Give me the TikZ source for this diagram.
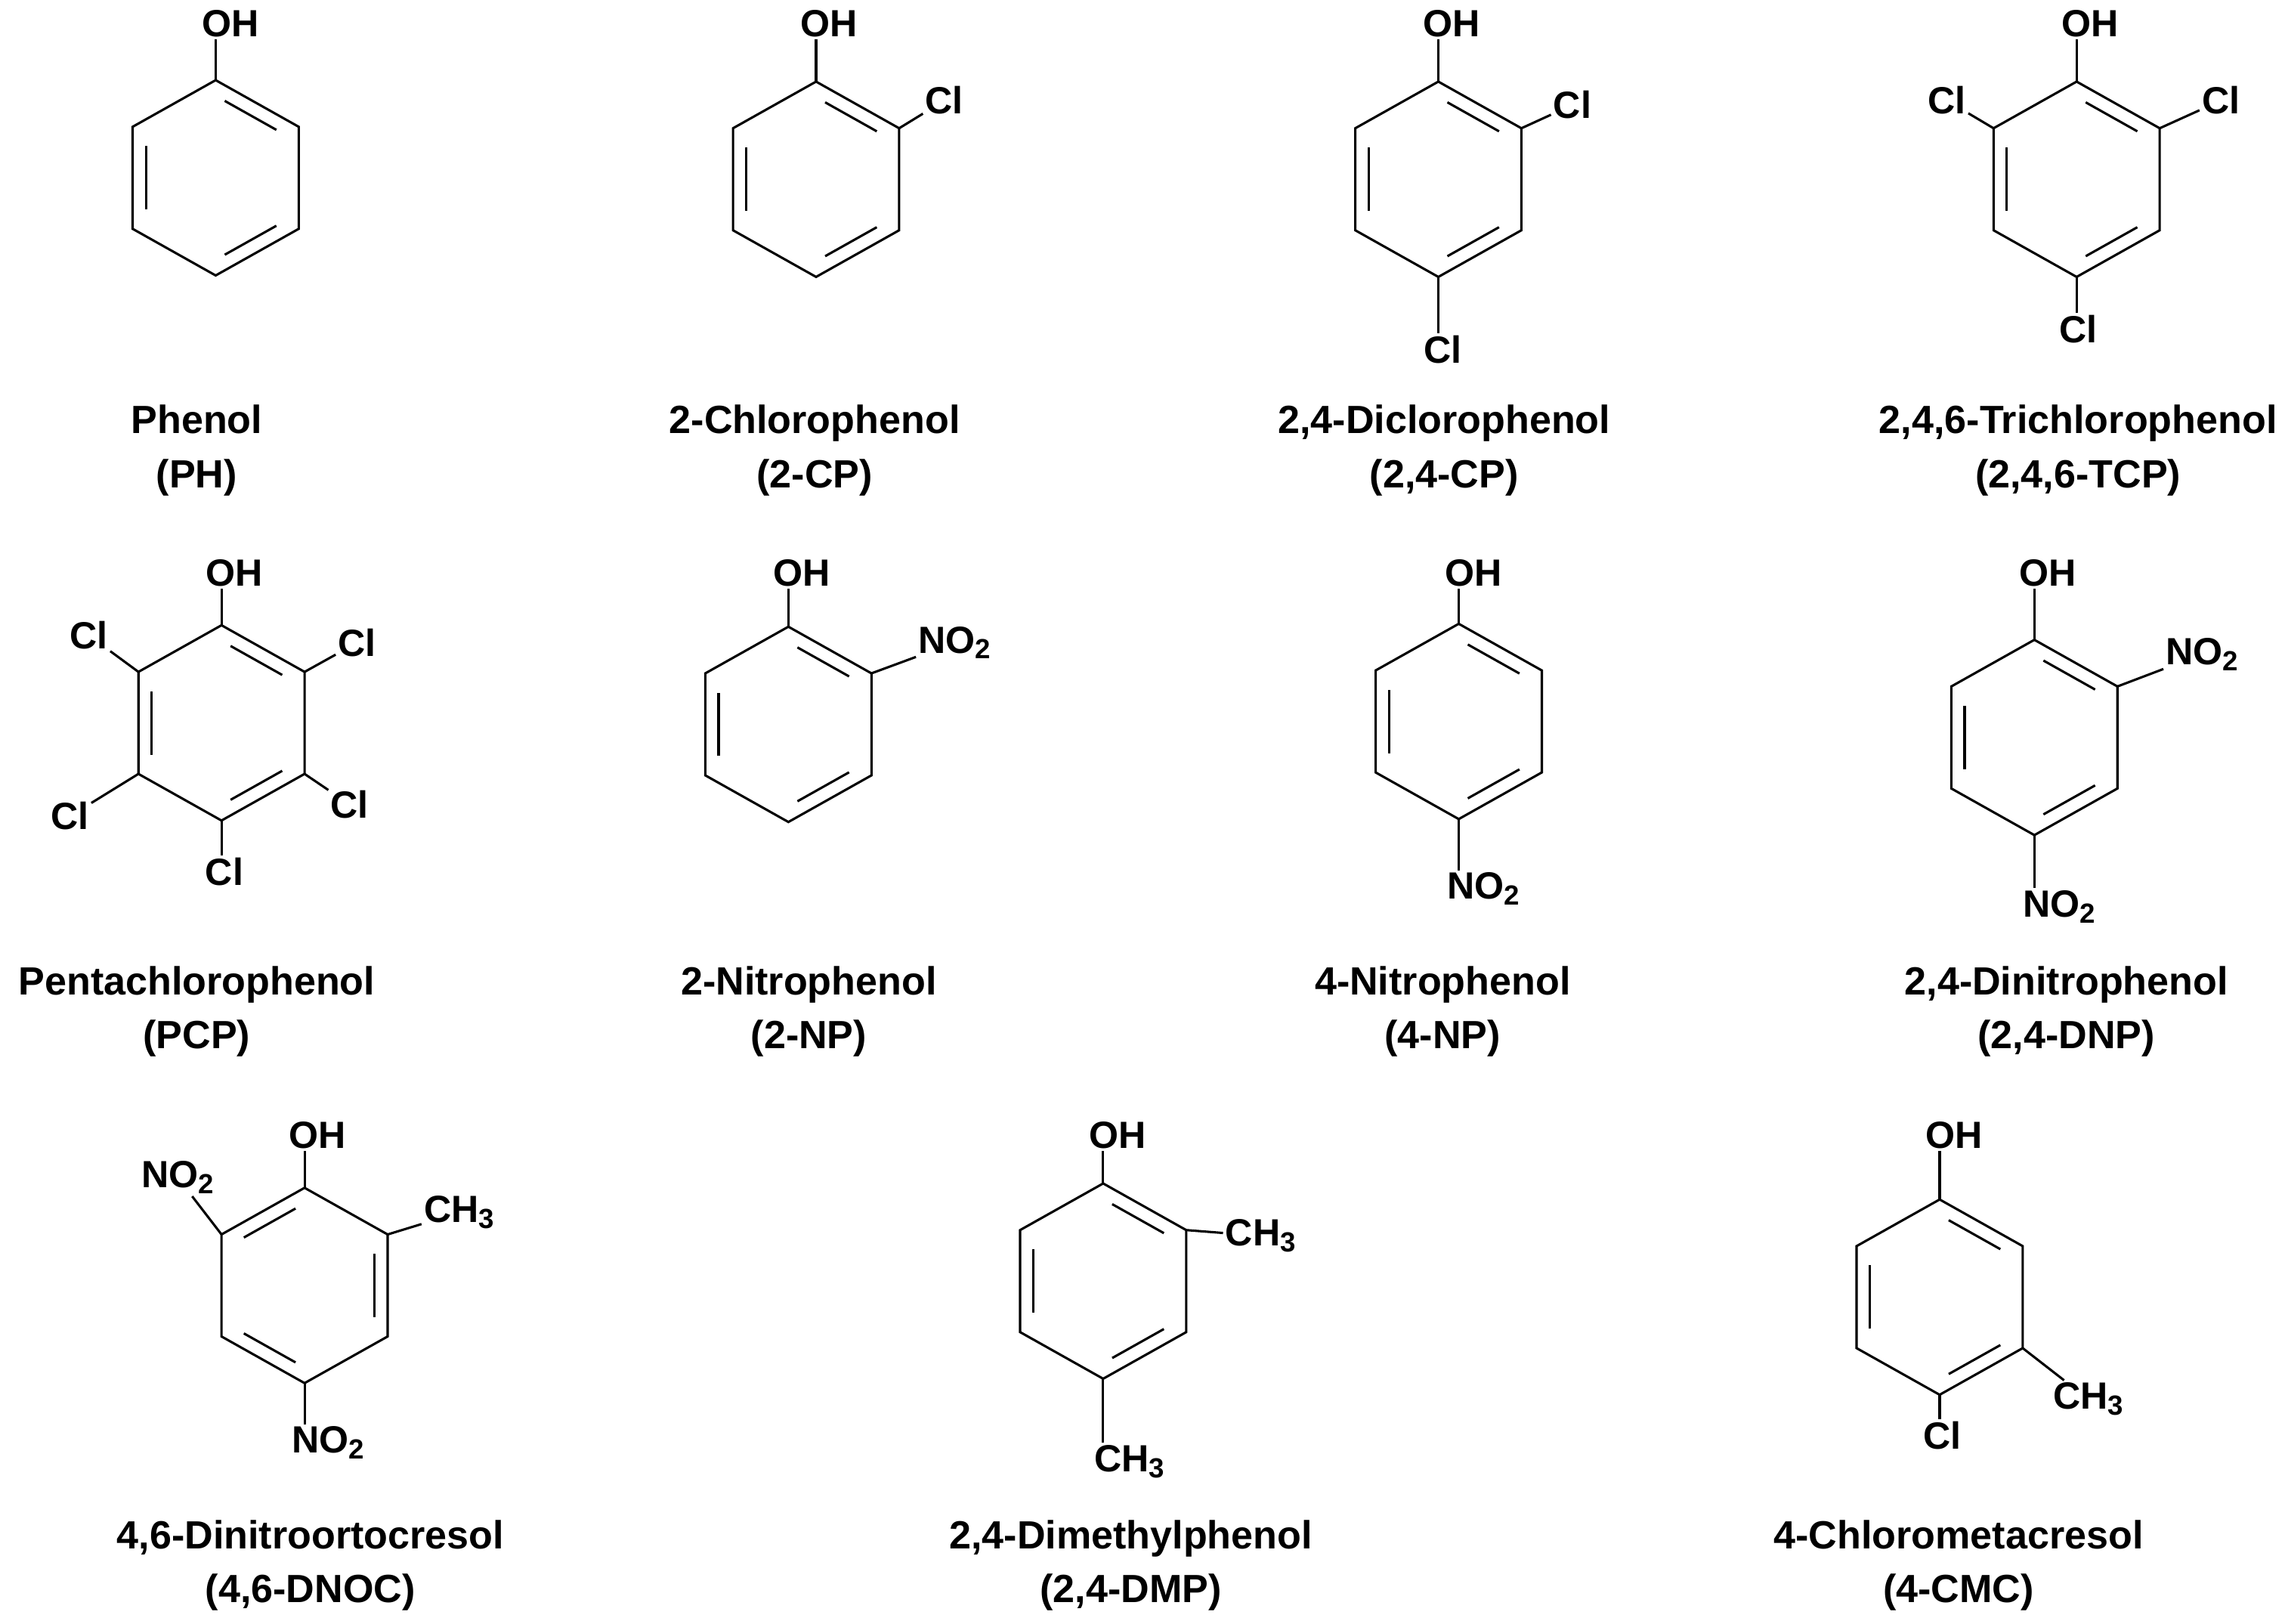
\documentclass[tikz,border=0pt]{standalone}
\usepackage{fontspec}
\setmainfont{Liberation Sans}
\usetikzlibrary{calc}
\tikzset{
  bond/.style={line width=1.6pt},
  atom/.style={font=\fontsize{26}{26}\selectfont\bfseries, inner sep=1.5pt},
  cname/.style={font=\fontsize{27}{37}\selectfont\bfseries, align=center},
}
\newcommand\sub[1]{\raisebox{-0.3ex}{\fontsize{19}{19}\selectfont #1}}
\newcommand\dbl[3]{%
  \path ($(#1-c)!0.84!(#1-#2)$) coordinate (tmpa) ($(#1-c)!0.84!(#1-#3)$) coordinate (tmpb);
  \draw[bond] ($(tmpa)!0.13!(tmpb)$) -- ($(tmpb)!0.13!(tmpa)$);}
\newcommand\molring[4]{%
  \coordinate (#1-c) at ({#2},{#3});
  \coordinate (#1-1) at ({#2},{#3-67});
  \coordinate (#1-2) at ({#2+57},{#3-35});
  \coordinate (#1-3) at ({#2+57},{#3+35});
  \coordinate (#1-4) at ({#2},{#3+67});
  \coordinate (#1-5) at ({#2-57},{#3+35});
  \coordinate (#1-6) at ({#2-57},{#3-35});
  \draw[bond] (#1-1)--(#1-2)--(#1-3)--(#1-4)--(#1-5)--(#1-6)--cycle;
  \ifx A#4\dbl{#1}{1}{2}\dbl{#1}{3}{4}\dbl{#1}{5}{6}\else\dbl{#1}{6}{1}\dbl{#1}{2}{3}\dbl{#1}{4}{5}\fi}
\newcommand\ohgroup[3]{% ring, x, y
  \node[atom] (#1-oh) at (#2,#3) {OH};
  \draw[bond] (#1-1) -- (#1-1 |- #1-oh.south);}
\begin{document}
\begin{tikzpicture}[x=1pt,y=-1pt]
\useasboundingbox (0,0) rectangle (1568,1114);
% Row 1
\molring{ph}{148}{122}{A}\ohgroup{ph}{158}{16}
\molring{cpa}{560}{123}{A}\ohgroup{cpa}{569}{16}
\node[atom] (cpa-cl) at (648,69) {Cl}; \draw[bond] (cpa-2) -- (cpa-cl);
\molring{dcp}{987}{123}{A}\ohgroup{dcp}{996}{16}
\node[atom] (dcp-cl2) at (1079,72) {Cl}; \draw[bond] (dcp-2) -- (dcp-cl2);
\node[atom] (dcp-cl4) at (990,240) {Cl}; \draw[bond] (dcp-4) -- (dcp-4 |- dcp-cl4.north);
\molring{tcp}{1425}{123}{A}\ohgroup{tcp}{1434}{16}
\node[atom] (tcp-cl6) at (1336,69) {Cl}; \draw[bond] (tcp-6) -- (tcp-cl6);
\node[atom] (tcp-cl2) at (1524,69) {Cl}; \draw[bond] (tcp-2) -- (tcp-cl2);
\node[atom] (tcp-cl4) at (1426,226) {Cl}; \draw[bond] (tcp-4) -- (tcp-4 |- tcp-cl4.north);
% Row 2
\molring{pcp}{152}{496}{A}\ohgroup{pcp}{161}{393}
\node[atom] (pcp-a) at (61,436) {Cl}; \draw[bond] (pcp-6) -- (pcp-a);
\node[atom] (pcp-b) at (245,441) {Cl}; \draw[bond] (pcp-2) -- (pcp-b);
\node[atom] (pcp-d) at (48,560) {Cl}; \draw[bond] (pcp-5) -- (pcp-d);
\node[atom] (pcp-e) at (240,552) {Cl}; \draw[bond] (pcp-3) -- (pcp-e);
\node[atom] (pcp-f) at (154,598) {Cl}; \draw[bond] (pcp-4) -- (pcp-4 |- pcp-f.north);
\molring{npa}{541}{497}{A}\ohgroup{npa}{550}{393}
\node[atom] (npa-n) at (655,441) {NO\sub{2}}; \draw[bond] (npa-2) -- (npa-n);
\molring{npb}{1001}{495}{A}\ohgroup{npb}{1011}{393}
\node[atom] (npb-n) at (1018,610) {NO\sub{2}}; \draw[bond] (npb-4) -- (npb-4 |- npb-n.north);
\molring{dnp}{1396}{506}{A}\ohgroup{dnp}{1405}{393}
\node[atom] (dnp-n2) at (1511,449) {NO\sub{2}}; \draw[bond] (dnp-2) -- (dnp-n2);
\node[atom] (dnp-n4) at (1413,622) {NO\sub{2}}; \draw[bond] (dnp-4) -- (dnp-4 |- dnp-n4.north);
% Row 3
\molring{dnoc}{209}{882}{B}\ohgroup{dnoc}{218}{779}
\node[atom] (dnoc-n6) at (122,808) {NO\sub{2}}; \draw[bond] (dnoc-6) -- (dnoc-n6);
\node[atom] (dnoc-m) at (315,832) {CH\sub{3}}; \draw[bond] (dnoc-2) -- (dnoc-m);
\node[atom] (dnoc-n4) at (225,990) {NO\sub{2}}; \draw[bond] (dnoc-4) -- (dnoc-4 |- dnoc-n4.north);
\molring{dmp}{757}{879}{A}\ohgroup{dmp}{767}{779}
\node[atom] (dmp-m2) at (865,848) {CH\sub{3}}; \draw[bond] (dmp-2) -- (dmp-m2);
\node[atom] (dmp-m4) at (775,1003) {CH\sub{3}}; \draw[bond] (dmp-4) -- (dmp-4 |- dmp-m4.north);
\molring{cmc}{1331}{890}{A}\ohgroup{cmc}{1341}{779}
\node[atom] (cmc-m) at (1433,960) {CH\sub{3}}; \draw[bond] (cmc-3) -- (cmc-m);
\node[atom] (cmc-cl) at (1333,985) {Cl}; \draw[bond] (cmc-4) -- (cmc-4 |- cmc-cl.north);
% Names
\node[cname] (n1) at (135,309) {Phenol\\(PH)};
\node[cname] (n2) at (559,309) {2-Chlorophenol\\(2-CP)};
\node[cname] (n3) at (991,309) {2,4-Diclorophenol\\(2,4-CP)};
\node[cname] (n4) at (1426,309) {2,4,6-Trichlorophenol\\(2,4,6-TCP)};
\node[cname] (n5) at (135,694) {Pentachlorophenol\\(PCP)};
\node[cname] (n6) at (555,694) {2-Nitrophenol\\(2-NP)};
\node[cname] (n7) at (990,694) {4-Nitrophenol\\(4-NP)};
\node[cname] (n8) at (1418,694) {2,4-Dinitrophenol\\(2,4-DNP)};
\node[cname] (n9) at (213,1074) {4,6-Dinitroortocresol\\(4,6-DNOC)};
\node[cname] (n10) at (776,1074) {2,4-Dimethylphenol\\(2,4-DMP)};
\node[cname] (n11) at (1344,1074) {4-Chlorometacresol\\(4-CMC)};
\end{tikzpicture}
\end{document}
